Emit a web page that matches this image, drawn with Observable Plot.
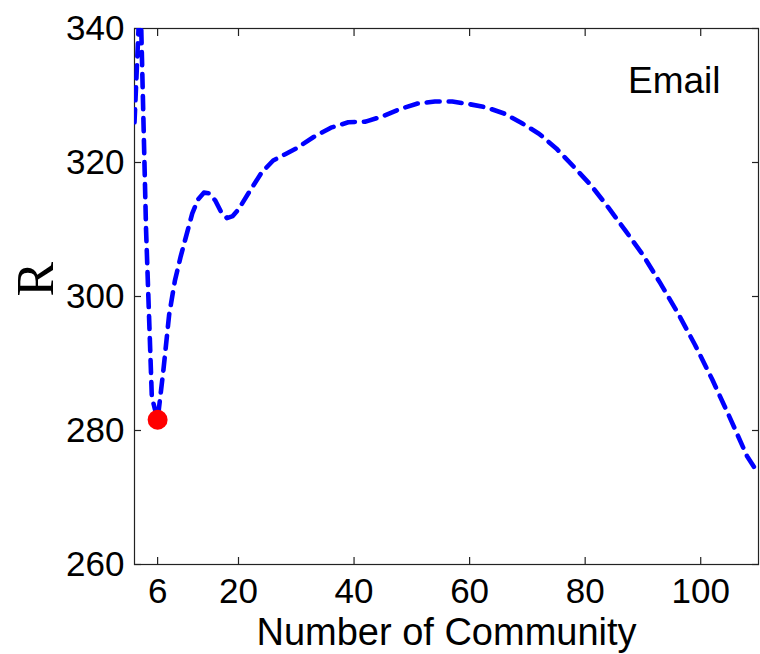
<!DOCTYPE html>
<html>
<head>
<meta charset="utf-8">
<script src="https://cdn.jsdelivr.net/npm/d3@7"></script>
<script src="https://cdn.jsdelivr.net/npm/@observablehq/plot@0.6"></script>
<style>
  body { margin: 0; background: #fff; }
</style>
</head>
<body>
<div id="chart"></div>
<script>
// R as a function of the number of communities (Email network)
const communities = [2, 3, 4, 5, 6, 7, 8, 9, 10, 11, 12, 13, 14, 15, 16, 17, 18, 19, 20,
  22, 24, 26, 28, 30, 33, 36, 39, 42, 45, 48, 51, 54, 57, 60, 63, 66, 69, 72, 75, 78,
  81, 84, 87, 90, 93, 96, 99, 102, 105, 108, 110];
const rValues = [326, 346, 310, 285, 281.6, 289, 297.3, 302.4, 306, 309.2, 312.4, 314.5, 315.5, 315.4, 314.3, 312.6, 311.7, 312, 313,
  315.8, 318.5, 320.3, 321.2, 322.1, 323.8, 325.2, 326, 326.1, 326.9, 328, 328.8, 329.1, 329.1, 328.7, 328.2, 327.3, 325.9, 324.3, 322.1, 319.4,
  316.6, 313.3, 309.8, 306.2, 302.0, 297.6, 292.8, 287.6, 282.0, 276.2, 273.5];

// Optimal number of communities (minimum of R)
const bestCommunity = [6];
const bestR = [281.6];

const xTicks = [6, 20, 40, 60, 80, 100];
const yTicks = [260, 280, 300, 320, 340];
const panelLabel = ["Email"];
const xLabel = ["Number of Community"];
const yLabel = ["R"];

const series = communities.map((c, i) => ({c, r: rValues[i]}));
const best = bestCommunity.map((c, i) => ({c, r: bestR[i]}));

const sans = "'Liberation Sans', Arial, Helvetica, sans-serif";
const axisColor = "#222";

const chart = Plot.plot({
  width: 760,
  height: 654,
  marginLeft: 134,
  marginRight: 2,
  marginTop: 28,
  marginBottom: 90,
  style: {fontFamily: sans, fontSize: "35px", color: "#000", background: "#fff"},
  x: {domain: [2, 110]},
  y: {domain: [260, 340]},
  marks: [
    Plot.frame({stroke: axisColor, strokeWidth: 1.2}),
    // inward tick marks on all four sides
    Plot.axisX({anchor: "bottom", ticks: xTicks, tickSize: -7, tickFormat: () => "", label: null, stroke: axisColor, strokeWidth: 1.2}),
    Plot.axisX({anchor: "top", ticks: xTicks, tickSize: -7, tickFormat: () => "", label: null, stroke: axisColor, strokeWidth: 1.2}),
    Plot.axisY({anchor: "left", ticks: yTicks, tickSize: -7, tickFormat: () => "", label: null, stroke: axisColor, strokeWidth: 1.2}),
    Plot.axisY({anchor: "right", ticks: yTicks, tickSize: -7, tickFormat: () => "", label: null, stroke: axisColor, strokeWidth: 1.2}),
    // tick labels
    Plot.axisX({anchor: "bottom", ticks: xTicks, tickSize: 0, tickPadding: 14, label: null, fill: "#000"}),
    Plot.axisY({anchor: "left", ticks: yTicks, tickSize: 0, tickPadding: 10, label: null, fill: "#000"}),
    // x axis title
    Plot.text(xLabel, {frameAnchor: "bottom", dy: 80, lineAnchor: "bottom", fontSize: 38, fill: "#000"}),
    // y axis title (serif, rotated)
    Plot.text(yLabel, {frameAnchor: "left", dx: -82, rotate: -90, lineAnchor: "bottom",
      fontFamily: "'Liberation Serif', 'Times New Roman', serif", fontSize: 52, fill: "#000"}),
    // panel label
    Plot.text(panelLabel, {frameAnchor: "top-right", dx: -38, dy: 64, textAnchor: "end", lineAnchor: "bottom", fontSize: 37, fill: "#000"}),
    Plot.line(series, {x: "c", y: "r", stroke: "#0000ff", strokeWidth: 4.6, strokeDasharray: "13,9", clip: true}),
    Plot.dot(best, {x: "c", y: "r", r: 10, fill: "#ff0000", stroke: "none"})
  ]
});

document.getElementById("chart").appendChild(chart);
</script>
</body>
</html>
